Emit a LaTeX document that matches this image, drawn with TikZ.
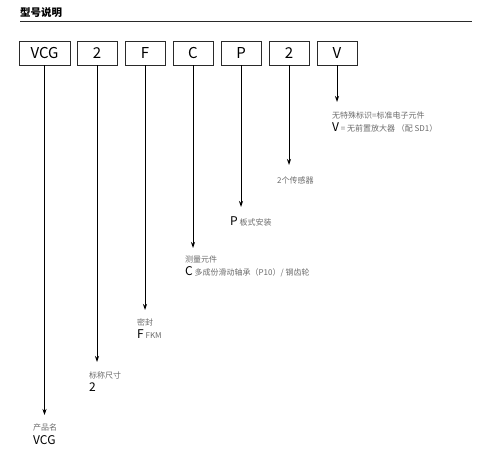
\documentclass[tikz,border=0pt]{standalone}
\usepackage{fontspec}
\setmainfont{Noto Sans CJK SC}
\usepackage{tikz}
\usetikzlibrary{arrows.meta,positioning}
\definecolor{ink}{HTML}{2A2A2A}
\definecolor{note}{HTML}{6A6A6A}

\begin{document}
\begin{tikzpicture}[x=1pt,y=-1pt,>={Stealth[length=6pt,width=4pt]},
  codebox/.style={draw=ink,line width=0.9pt,minimum width=40pt,minimum height=24pt,inner sep=0pt,font=\fontsize{15}{15}\selectfont},
  desc/.style={anchor=west,inner sep=0pt,text=note,font=\fontsize{8}{9}\selectfont},
  code/.style={anchor=west,inner sep=0pt,text=black,font=\fontsize{8}{9}\selectfont},
  big/.style={font=\fontsize{12}{12}\selectfont}]
\useasboundingbox (0,0) rectangle (500,465);
% heading
\node[anchor=west,inner sep=0pt,font=\fontsize{10.5}{11}\bfseries\selectfont] (title) at (20,13) {型号说明};
\coordinate (ruleL) at (20,21.5);
\coordinate (ruleR) at (472,21.5);
\draw[ink,line width=0.8pt] (ruleL) -- (ruleR);
% code boxes
\node[codebox,minimum width=51pt] (vcg) at (44.5,53) {VCG};
\node[codebox] (size)  at (97,53)  {2};
\node[codebox] (seal)  at (145,53) {F};
\node[codebox] (elem)  at (193,53) {C};
\node[codebox] (mount) at (241,53) {P};
\node[codebox] (sens)  at (289,53) {2};
\node[codebox] (amp)   at (337,53) {V};
% arrow ends
\coordinate (vcgTip)   at (44.5,415);
\coordinate (sizeTip)  at (97,362);
\coordinate (sealTip)  at (145,310);
\coordinate (elemTip)  at (193,248);
\coordinate (mountTip) at (241,207);
\coordinate (sensTip)  at (289,165);
\coordinate (ampTip)   at (337,102);
\foreach \b in {vcg,size,seal,elem,mount,sens,amp}
  \draw[->,line width=0.8pt] (\b) -- (\b Tip);
% product name
\node[desc] (vcgD) at (33,427) {产品名};
\node[code,big] (vcgC) at (33,440) {VCG};
% nominal size
\node[desc] (sizeD) at (89,375) {标称尺寸};
\node[code,big] (sizeC) at (89,387) {2};
% seal
\node[desc] (sealD) at (137,322) {密封};
\node[code] (sealC) at (137,334) {{\fontsize{12}{12}\selectfont F} \textcolor{note}{FKM}};
% measuring element
\node[desc] (elemD) at (185,259) {测量元件};
\node[code] (elemC) at (185,272) {{\fontsize{12}{12}\selectfont C} \textcolor{note}{多成份滑动轴承（P10）/ 钢齿轮}};
% mounting
\node[code] (mountC) at (230,221) {{\fontsize{12}{12}\selectfont P} \textcolor{note}{板式安装}};
% sensors
\node[desc] (sensD) at (277,180) {2个传感器};
% amplifier
\node[desc] (ampD) at (332,115) {无特殊标识=标准电子元件};
\node[code] (ampC) at (332,127) {{\fontsize{12}{12}\selectfont V} \textcolor{note}{= 无前置放大器 （配 SD1）}};
\end{tikzpicture}
\end{document}
